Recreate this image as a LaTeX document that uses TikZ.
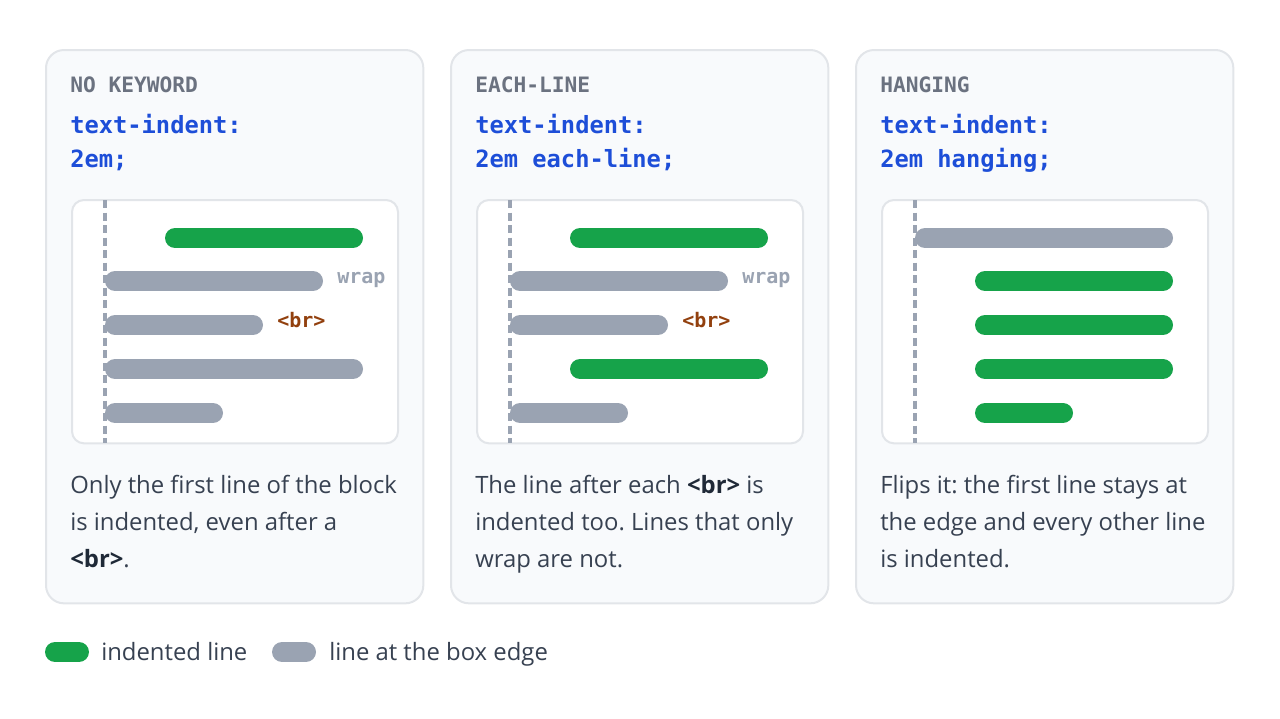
\documentclass[tikz,border=0pt]{standalone}
\usepackage{fontspec}
\setmainfont{Open Sans}
\setmonofont{DejaVu Sans Mono}
\usepackage{tikz}
\usetikzlibrary{positioning}
\definecolor{cardfill}{HTML}{F8FAFC}
\definecolor{cardline}{HTML}{E2E5E9}
\definecolor{headgrey}{HTML}{6B7280}
\definecolor{codeblue}{HTML}{1D4ED8}
\definecolor{bodytext}{HTML}{374151}
\definecolor{boldtext}{HTML}{1F2937}
\definecolor{tagbrown}{HTML}{92400E}
\definecolor{bargreen}{HTML}{16A34A}
\definecolor{bargrey}{HTML}{9AA3B2}
\tikzset{card/.style={draw=cardline,fill=cardfill,line width=1.5pt,
                      rounded corners=13.5pt,inner sep=0pt,anchor=north west,
                      minimum width=283pt,minimum height=415pt}}
\tikzset{demo/.style={card,fill=white,rounded corners=9pt,
                      minimum width=244.5pt,minimum height=182.5pt}}
\tikzset{indentbar/.style={draw=bargreen},edgebar/.style={draw=bargrey}}
\def\cardstep{405}
\frenchspacing

\begin{document}
\begin{tikzpicture}[x=0.75pt,y=-0.75pt]
    \tikzstyle{bar}=[line width=15pt,line cap=round]
    \tikzstyle{head}=[inner sep=0pt,anchor=base west,text=headgrey,
                      font=\ttfamily\bfseries\fontsize{15.9}{19}\selectfont]
    \tikzstyle{code}=[inner sep=0pt,anchor=base west,text=codeblue,align=left,
                      font=\ttfamily\bfseries\fontsize{17.8}{25.5}\selectfont]
    \tikzstyle{desc}=[inner sep=0pt,anchor=base west,text=bodytext,align=left,
                      font=\fontsize{17.9}{27.4}\selectfont]
    \tikzstyle{tagtext}=[inner sep=0pt,anchor=base west,
                      font=\ttfamily\bfseries\fontsize{15}{18}\selectfont]
    \tikzstyle{legend}=[inner sep=0pt,anchor=base west,text=bodytext,
                        font=\fontsize{17.9}{20}\selectfont]
    \useasboundingbox (0,0) rectangle (1280,718);

    % Draw the three cards with their heading, code and text
    % (a node with several lines sits on its last line)
    \foreach \i/\kw/\val/\txt in {
        0/NO KEYWORD/2em;/{Only the first line of the block\\is indented, even after a\\\textbf{\color{boldtext}<br>}.},
        1/EACH-LINE/2em each-line;/{The line after each \textbf{\color{boldtext}<br>} is\\indented too. Lines that only\\wrap are not.},
        2/HANGING/2em hanging;/{Flips it: the first line stays at\\the edge and every other line\\is indented.}}
    {
        \begin{scope}[shift={(\i*\cardstep,0)}]
            \node[card] (card-\i) at (45,49) {};
            \node[head] (head-\i) at (70,92) {\kw};
            \node[code] (code-\i) at (70,167) {text-indent:\\\val};
            \node[demo] (demo-\i) at (71,199) {};
            \node[desc] (desc-\i) at (70,567) {\txt};
            \draw[bargrey,line width=2.6pt,dash pattern=on 6pt off 3.4pt]
                (105,200) -- (105,443);
        \end{scope}
    }

    % Draw the line bars: card / row / start / end / kind
    \foreach \k/\y/\a/\b/\kind in {
        0/238/120/318/indentbar, 0/281/60/278/edgebar, 0/325/60/218/edgebar,
        0/369/60/318/edgebar, 0/413/60/178/edgebar,
        1/238/120/318/indentbar, 1/281/60/278/edgebar, 1/325/60/218/edgebar,
        1/369/120/318/indentbar, 1/413/60/178/edgebar,
        2/238/60/318/edgebar, 2/281/120/318/indentbar, 2/325/120/318/indentbar,
        2/369/120/318/indentbar, 2/413/120/218/indentbar}
        \draw[bar,\kind] ({45+\k*\cardstep+\a+10},\y) -- ({45+\k*\cardstep+\b-10},\y);

    % Annotate the wrapped and broken lines
    \foreach \k in {0,1} {
        \node[tagtext,text=bargrey] (wrap-\k) at ({337+\k*\cardstep},283) {wrap};
        \node[tagtext,text=tagbrown] (br-\k) at ({277+\k*\cardstep},327) {<br>};
    }

    % Legend
    \draw[bar,indentbar] (55,652) -- (79,652);
    \node[legend] (leg-indent) at (101,660) {indented line};
    \draw[bar,edgebar] (282,652) -- (306,652);
    \node[legend] (leg-edge) at (329,660) {line at the box edge};
\end{tikzpicture}
\end{document}
